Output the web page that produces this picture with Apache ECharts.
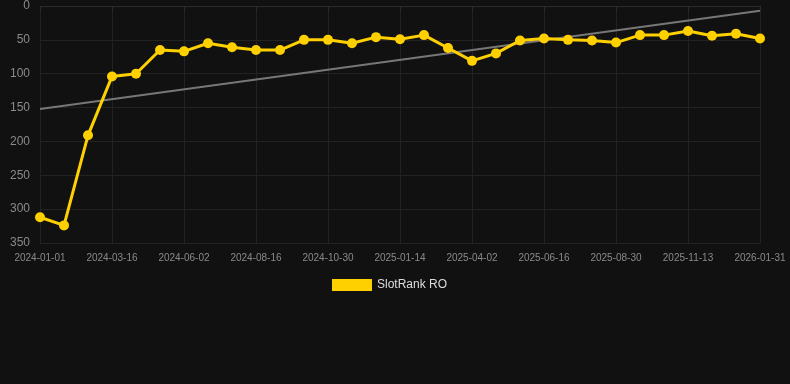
<!DOCTYPE html>
<html><head><meta charset="utf-8">
<script src="https://cdn.jsdelivr.net/npm/echarts@6/dist/echarts.min.js"></script>
<style>html,body{margin:0;padding:0;background:#111111;}#c{width:790px;height:384px;}</style>
</head><body><div id="c"></div>
<script>
const dates = ["2024-01-01","2024-01-26","2024-02-20","2024-03-16","2024-04-10","2024-05-08","2024-06-02","2024-06-27","2024-07-22","2024-08-16","2024-09-10","2024-10-05","2024-10-30","2024-11-24","2024-12-20","2025-01-14","2025-02-08","2025-03-08","2025-04-02","2025-04-27","2025-05-22","2025-06-16","2025-07-11","2025-08-05","2025-08-30","2025-09-24","2025-10-19","2025-11-13","2025-12-08","2026-01-05","2026-01-31"];
const rankValues = [312,324,191,104,100,65,67,55,61,65,65,50,50,55,46,49,43,62,81,70,51,48,50,51,54,43,43,37,44,41,48];
const trendStart = 152;
const trendEnd = 7;
const trendValues = dates.map((d,i)=> i===0 ? trendStart : (i===dates.length-1 ? trendEnd : null));
const yTicks = [0,50,100,150,200,250,300,350];

const chart = echarts.init(document.getElementById('c'));
chart.setOption({
  backgroundColor:'#111111',
  animation:false,
  grid:{left:40,right:30,top:6,bottom:141,containLabel:false},
  legend:{top:274,left:327,itemWidth:40,itemHeight:12,itemGap:10,
    textStyle:{color:'#dddddd',fontSize:12,fontFamily:'Liberation Sans, Arial, sans-serif'},
    data:[{name:'SlotRank RO',icon:'rect'}]},
  xAxis:{type:'category',data:dates,boundaryGap:false,
    axisLine:{lineStyle:{color:'#2a2a2a'}},
    axisTick:{show:true,interval:2,lineStyle:{color:'#2a2a2a'}},
    axisLabel:{interval:2,color:'#8a8a8a',fontSize:10,margin:10,fontFamily:'Liberation Sans, Arial, sans-serif'},
    splitLine:{show:true,interval:2,lineStyle:{color:'#222222'}}},
  yAxis:{type:'value',inverse:true,min:yTicks[0],max:yTicks[yTicks.length-1],interval:50,
    axisLine:{show:false},axisTick:{show:false},
    axisLabel:{color:'#8a8a8a',fontSize:12,margin:10,fontFamily:'Liberation Sans, Arial, sans-serif'},
    splitLine:{lineStyle:{color:'#222222'}}},
  series:[
    {name:'Trend',type:'line',data:trendValues,connectNulls:true,symbol:'none',
     lineStyle:{color:'#777777',width:2},z:1,silent:true},
    {name:'SlotRank RO',type:'line',data:rankValues,symbol:'circle',symbolSize:10,
     itemStyle:{color:'#FFD000'},lineStyle:{color:'#FFD000',width:3},z:2}
  ]
});
</script></body></html>
